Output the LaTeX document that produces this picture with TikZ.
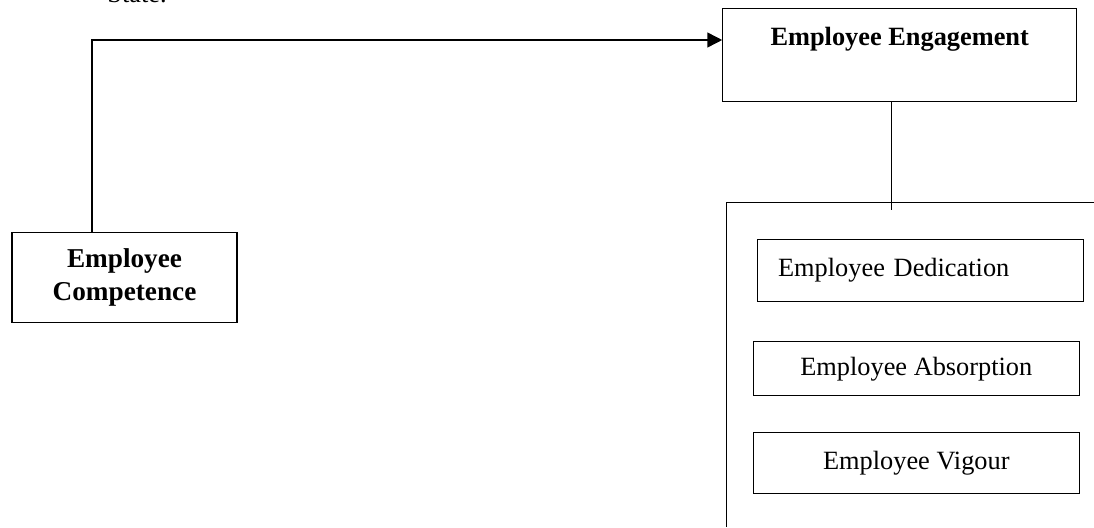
\documentclass[tikz,border=0pt]{standalone}
\usepackage{fontspec}
\setmainfont{Liberation Serif}
\usetikzlibrary{arrows.meta}

\begin{document}
\begin{tikzpicture}[x=0.02cm, y=-0.02cm,
	txt/.style={font=\fontsize{15}{13}\selectfont},
	box/.style={draw, line width=0.6pt, inner sep=0pt, txt},
	link/.style={line width=0.6pt},
	arr/.style={line width=0.9pt, -{Triangle[length=8.5pt, width=8.5pt]}}]
	\useasboundingbox (0, 0) rectangle (1094, 527);
	\node [txt, anchor=base west, inner sep=0pt] (ST) at (107, 3) {State.};
	\node [box, font=\fontsize{15.5}{19}\selectfont\bfseries, align=center, minimum width=4.5cm, minimum height=1.8cm] (EC) at (124.5, 277.7) {Employee\\Competence};
	\node [box, font=\fontsize{15}{13}\selectfont\bfseries, minimum width=7.08cm, text height=0.734cm, text depth=1.134cm] (EE) at (899.7, 55) {Employee Engagement};
	\node [box, text width=5.69cm, inner xsep=0.414cm, align=left, minimum height=1.234cm] (ED) at (920.3, 270.2) {Employee Dedication};
	\node [box, minimum width=6.52cm, minimum height=1.08cm] (EA) at (916.3, 368.7) {Employee Absorption};
	\node [box, minimum width=6.52cm, minimum height=1.226cm] (EV) at (916.3, 463.3) {Employee Vigour};
	\coordinate (TC) at (92, 40);
	\coordinate (DL) at (891.7, 210);
	\coordinate (GR) at (1094, 202.7);
	\coordinate (GB) at (726.7, 527);
	\draw [arr] (EC.north -| TC) |- (EE.west |- TC);
	\draw [link] (EE.south -| DL) -- (DL);
	\draw [link] (GR) -| (GB);
\end{tikzpicture}
\end{document}
